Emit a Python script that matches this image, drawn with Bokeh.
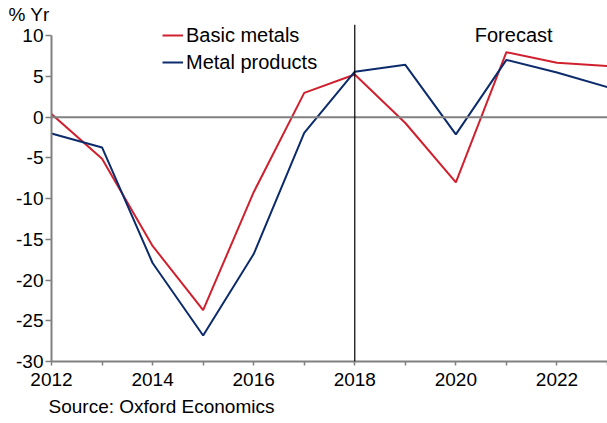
from bokeh.plotting import figure
from bokeh.models import (Range1d, FixedTicker, Span, Label, Legend, LegendItem, Title)
from bokeh.embed import file_html
from bokeh.resources import INLINE

years = [2012, 2013, 2014, 2015, 2016, 2017, 2018, 2019, 2020, 2021, 2022, 2023]
basic_metals = [0.4, -5.1, -15.8, -23.7, -9.2, 3.0, 5.25, -0.7, -8.0, 8.0, 6.7, 6.3]
metal_products = [-2.0, -3.7, -17.9, -26.8, -16.8, -1.9, 5.6, 6.45, -2.1, 7.05, 5.5, 3.7]
x_label_ticks = [2012, 2014, 2016, 2018, 2020, 2022]
x_minor_ticks = [2013, 2015, 2017, 2019, 2021, 2023]
y_ticks = [-30, -25, -20, -15, -10, -5, 0, 5, 10]
forecast_start = 2018

FONT = "Liberation Sans"
FS = "19px"
FS2 = "20px"
RED = "#D0202E"
BLUE = "#0B2B6C"
GREY = "#808080"

p = figure(output_backend="svg", toolbar_location=None,
           frame_width=556, frame_height=337,
           min_border_left=51, min_border_right=0,
           min_border_top=24, min_border_bottom=62,
           x_range=Range1d(2012, 2023), y_range=Range1d(-30, 11.4))
p.outline_line_color = None
p.grid.visible = False
p.background_fill_color = "white"
p.border_fill_color = "white"

p.title.text = "% Yr"
p.title.align = "left"
p.title.offset = -43
p.title.standoff = 0
p.title.text_font = FONT
p.title.text_font_size = FS
p.title.text_font_style = "normal"
p.title.text_color = "black"

p.add_layout(Title(text="Source: Oxford Economics", align="left", offset=-3, standoff=11,
                   text_font=FONT, text_font_size=FS, text_font_style="normal",
                   text_color="black"), "below")

# zero line and forecast divider
p.add_layout(Span(location=0, dimension="width", line_color=GREY, line_width=2))
p.add_layout(Span(location=forecast_start, dimension="height", line_color="black", line_width=1.2))

r1 = p.line(years, basic_metals, line_color=RED, line_width=2)
r2 = p.line(years, metal_products, line_color=BLUE, line_width=2)

# axes
xa = p.xaxis[0]
xa.ticker = FixedTicker(ticks=x_label_ticks, minor_ticks=x_minor_ticks)
xa.axis_line_color = GREY
xa.axis_line_width = 2
xa.major_tick_line_color = GREY
xa.minor_tick_line_color = GREY
xa.major_tick_line_width = 1.5
xa.minor_tick_line_width = 1.5
xa.major_tick_in = 0
xa.major_tick_out = 4
xa.minor_tick_in = 0
xa.minor_tick_out = 4
xa.major_label_standoff = 7
xa.major_label_text_font = FONT
xa.major_label_text_font_size = FS
xa.major_label_text_color = "black"

ya = p.yaxis[0]
ya.ticker = FixedTicker(ticks=y_ticks)
ya.bounds = (-30, 10)
ya.major_label_overrides = {t: str(t) for t in y_ticks}
ya.axis_line_color = GREY
ya.axis_line_width = 2
ya.major_tick_line_color = GREY
ya.major_tick_line_width = 1.5
ya.major_tick_in = 0
ya.major_tick_out = 6
ya.minor_tick_line_color = None
ya.major_label_standoff = 2
ya.major_label_text_font = FONT
ya.major_label_text_font_size = FS
ya.major_label_text_color = "black"

p.add_layout(Label(x=forecast_start, y=10, x_offset=120, y_offset=1, text="Forecast",
                   text_font=FONT, text_font_size=FS2, text_color="black",
                   text_baseline="alphabetic"))

legend = Legend(items=[LegendItem(label="Basic metals", renderers=[r1]),
                       LegendItem(label="Metal products", renderers=[r2])],
                location=(111, 287), border_line_color=None,
                background_fill_alpha=0, padding=0, margin=0, spacing=3,
                glyph_width=21, glyph_height=24, label_height=24, label_standoff=3,
                label_text_font=FONT, label_text_font_size=FS2, label_text_color="black")
p.add_layout(legend)

open("out.html", "w").write(file_html(p, INLINE))
